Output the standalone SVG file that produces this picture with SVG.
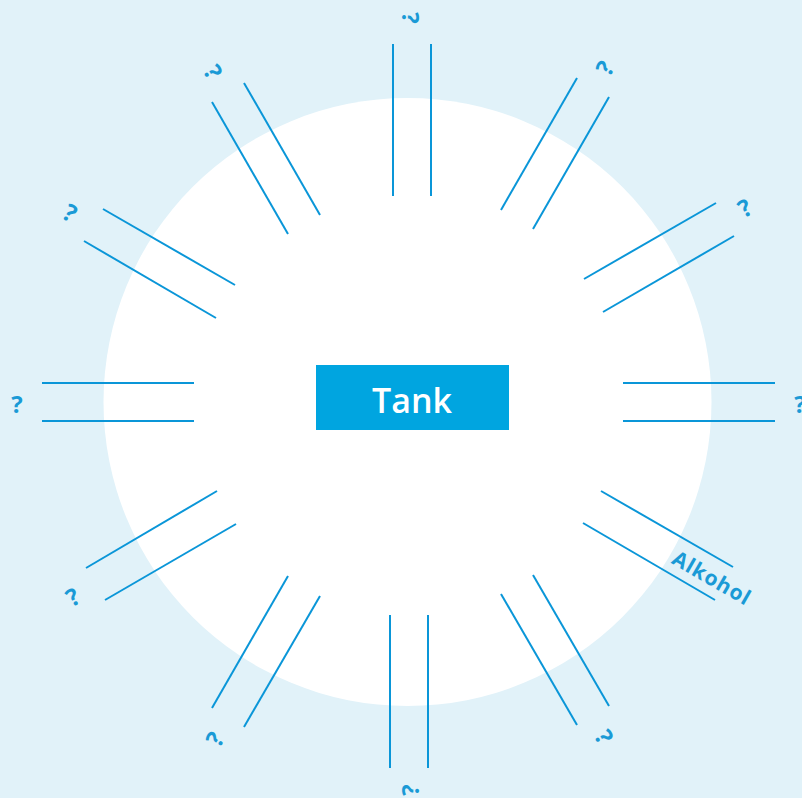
<svg xmlns="http://www.w3.org/2000/svg" width="802" height="798" viewBox="0 0 802 798">
<style>
.sp{stroke:#0a96d8;stroke-width:2;fill:none}
.q{font-family:"Open Sans","DejaVu Sans",sans-serif;font-weight:700;font-size:24px;fill:#1a9ad6;text-anchor:middle}
.a{font-family:"Open Sans","DejaVu Sans",sans-serif;font-weight:700;font-size:21px;fill:#1a9ad6;text-anchor:middle;letter-spacing:1px}
</style>
<rect width="802" height="798" fill="#e1f2f9"/>
<circle cx="407.5" cy="402" r="304" fill="#ffffff"/>
<g id="connectors">
<line class="sp" x1="393" y1="44" x2="393" y2="196"/><line class="sp" x1="431" y1="44" x2="431" y2="196"/>
<line class="sp" x1="501" y1="210" x2="577" y2="78"/><line class="sp" x1="533" y1="229" x2="609" y2="97"/>
<line class="sp" x1="584" y1="279" x2="716" y2="203"/><line class="sp" x1="603" y1="312" x2="734" y2="236"/>
<line class="sp" x1="623" y1="383" x2="775" y2="383"/><line class="sp" x1="623" y1="421" x2="775" y2="421"/>
<line class="sp" x1="601" y1="491" x2="733" y2="567"/><line class="sp" x1="583" y1="523" x2="715" y2="600"/>
<line class="sp" x1="533" y1="575" x2="609" y2="706"/><line class="sp" x1="501" y1="594" x2="577" y2="725"/>
<line class="sp" x1="390" y1="615" x2="390" y2="768"/><line class="sp" x1="428" y1="615" x2="428" y2="768"/>
<line class="sp" x1="288" y1="576" x2="212" y2="708"/><line class="sp" x1="320" y1="596" x2="244" y2="727"/>
<line class="sp" x1="217" y1="491" x2="86" y2="568"/><line class="sp" x1="236" y1="524" x2="105" y2="600"/>
<line class="sp" x1="42" y1="383" x2="194" y2="383"/><line class="sp" x1="42" y1="421" x2="194" y2="421"/>
<line class="sp" x1="235" y1="285" x2="103" y2="209"/><line class="sp" x1="216" y1="318" x2="84" y2="241"/>
<line class="sp" x1="320" y1="215" x2="244" y2="83"/><line class="sp" x1="288" y1="234" x2="212" y2="102"/>
</g>
<g id="tank">
<rect x="316" y="365" width="193" height="65" fill="#00a5e0"/>
<text x="412" y="413" font-family="'Open Sans','DejaVu Sans',sans-serif" font-weight="600" font-size="34" fill="#ffffff" text-anchor="middle">Tank</text>
</g>
<g id="label-n"><text class="q" transform="translate(410,18) rotate(90)" y="8.5">?</text></g>
<g id="label-nne"><text class="q" transform="translate(605,68) rotate(-60)" y="8.5">?</text></g>
<g id="label-ene"><text class="q" transform="translate(745,208) rotate(-30)" y="8.5">?</text></g>
<g id="label-e"><text class="q" transform="translate(800,404)" y="8.5">?</text></g>
<g id="label-ese"><text class="a" transform="translate(712,578) rotate(30)" y="7.5">Alkohol</text></g>
<g id="label-sse"><text class="q" transform="translate(604,737) rotate(60)" y="8.5">?</text></g>
<g id="label-s"><text class="q" transform="translate(410,790) rotate(-90)" y="8.5">?</text></g>
<g id="label-ssw"><text class="q" transform="translate(215,739) rotate(-60)" y="8.5">?</text></g>
<g id="label-wsw"><text class="q" transform="translate(73,597) rotate(-30)" y="8.5">?</text></g>
<g id="label-w"><text class="q" transform="translate(17,404)" y="8.5">?</text></g>
<g id="label-wnw"><text class="q" transform="translate(70,213) rotate(30)" y="8.5">?</text></g>
<g id="label-nnw"><text class="q" transform="translate(213,72) rotate(60)" y="8.5">?</text></g>
</svg>
